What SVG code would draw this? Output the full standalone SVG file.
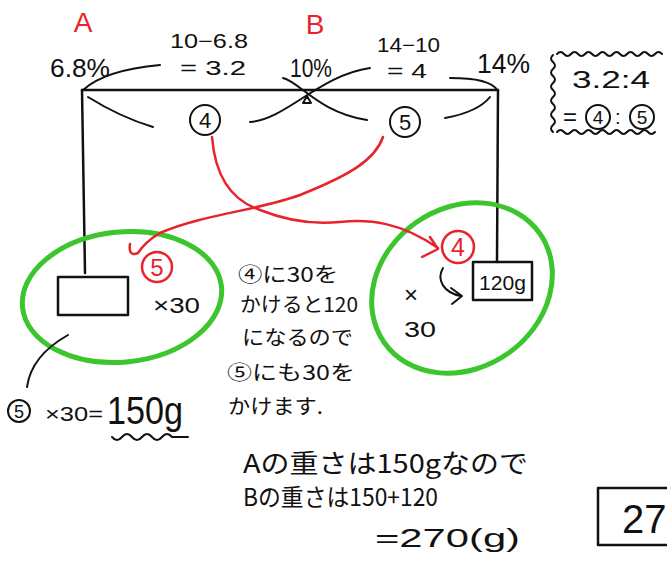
<svg xmlns="http://www.w3.org/2000/svg" width="667" height="563" viewBox="0 0 667 563">
<style>
.ln{fill:none;stroke:#111;stroke-width:2.5;stroke-linecap:round;stroke-linejoin:round}
.thin{fill:none;stroke:#111;stroke-width:2;stroke-linecap:round;stroke-linejoin:round}
.red{fill:none;stroke:#e8232b;stroke-width:2.5;stroke-linecap:round;stroke-linejoin:round}
.grn{fill:none;stroke:#3cc52c;stroke-width:5}
.t{font-family:"Liberation Sans","Noto Sans CJK JP",sans-serif;fill:#111}
.j{font-family:"Noto Sans CJK JP",sans-serif;fill:#111}
.rt{font-family:"Liberation Sans",sans-serif;fill:#e8232b}
.cn{font-family:"Liberation Sans",sans-serif;fill:#111;text-anchor:middle}
</style>
<rect width="667" height="563" fill="#fff"/>

<g id="lever">
  <path class="ln" d="M82,90 L498,90"/>
  <path class="ln" d="M82,90 L85,273"/>
  <path class="ln" d="M498,90 L497,262"/>
  <path class="thin" d="M83,90 Q105,70 160,65"/>
  <path class="thin" d="M88,97 Q120,117 153,127"/>
  <path class="thin" d="M250,122 C285,120 320,75 370,68"/>
  <path class="thin" d="M283,78 C300,82 318,112 367,120"/>
  <path class="thin" d="M450,78 Q490,78 497,90"/>
  <path class="thin" d="M445,118 Q478,112 490,97"/>
  <path class="thin" d="M303,103 L307,96 L311,103 Z"/>
</g>

<g id="labels-top">
  <text class="rt" x="83" y="32" font-size="28" text-anchor="middle">A</text>
  <text class="rt" x="315" y="34" font-size="28" text-anchor="middle">B</text>
  <text class="t" x="50" y="77" font-size="26" textLength="60" lengthAdjust="spacingAndGlyphs">6.8%</text>
  <text class="t" x="170" y="48" font-size="20" textLength="78" lengthAdjust="spacingAndGlyphs">10−6.8</text>
  <text class="t" x="180" y="75" font-size="20" textLength="66" lengthAdjust="spacingAndGlyphs">= 3.2</text>
  <text class="t" x="290" y="77" font-size="26" textLength="42" lengthAdjust="spacingAndGlyphs">10%</text>
  <text class="t" x="377" y="52" font-size="20" textLength="63" lengthAdjust="spacingAndGlyphs">14−10</text>
  <text class="t" x="387" y="78" font-size="20" textLength="40" lengthAdjust="spacingAndGlyphs">= 4</text>
  <text class="t" x="477" y="73" font-size="28" textLength="53" lengthAdjust="spacingAndGlyphs">14%</text>
</g>

<g id="ratio-4">
  <circle class="thin" cx="205" cy="120" r="15"/>
  <text class="cn" x="205" y="128" font-size="22">4</text>
</g>
<g id="ratio-5">
  <circle class="thin" cx="405" cy="122" r="15"/>
  <text class="cn" x="405" y="130" font-size="22">5</text>
</g>

<g id="ratio-box">
  <path class="thin" d="M557,54 q3.5,-4 7,0 t7,0 t7,0 t7,0 t7,0 t7,0 t7,0 t7,0 t7,0 t7,0 t7,0 t7,0 t7,0 t7,0 t7,0"/>
  <path class="thin" d="M553,55 q-4,3.5 0,7 t0,7 t0,7 t0,7 t0,7 t0,7 t0,7 t0,7 t0,7 t0,7 t0,7"/>
  <path class="thin" d="M557,132 q3.5,-4 7,0 t7,0 t7,0 t7,0 t7,0 t7,0 t7,0 t7,0 t7,0 t7,0 t7,0 t7,0 t7,0 t7,0"/>
  <text class="t" x="572" y="88" font-size="24" textLength="78" lengthAdjust="spacingAndGlyphs">3.2:4</text>
  <text class="t" x="563" y="125" font-size="24">=</text>
  <circle class="thin" cx="598" cy="117" r="12"/>
  <text class="cn" x="598" y="124" font-size="19">4</text>
  <text class="t" x="615" y="124" font-size="20">:</text>
  <circle class="thin" cx="642" cy="117" r="12"/>
  <text class="cn" x="642" y="124" font-size="19">5</text>
</g>

<g id="weight-A">
  <ellipse class="grn" cx="122" cy="297" rx="100" ry="65" transform="rotate(-6 122 297)"/>
  <rect class="ln" x="58" y="277" width="70" height="38"/>
  <text class="t" x="153" y="313" font-size="22" textLength="47" lengthAdjust="spacingAndGlyphs">×30</text>
  <circle cx="157" cy="267" r="15" fill="none" stroke="#e8232b" stroke-width="2.5"/>
  <text class="rt" x="157" y="276" font-size="24" text-anchor="middle">5</text>
</g>

<g id="weight-B">
  <ellipse class="grn" cx="462" cy="288" rx="95" ry="80" transform="rotate(-35 462 288)"/>
  <rect class="ln" x="473" y="262" width="59" height="38"/>
  <text class="t" x="479" y="290" font-size="20" textLength="47" lengthAdjust="spacingAndGlyphs">120g</text>
  <text class="t" x="404" y="303" font-size="24">×</text>
  <text class="t" x="404" y="337" font-size="22" textLength="32" lengthAdjust="spacingAndGlyphs">30</text>
  <path class="thin" d="M443,268 C436,280 444,293 461,296 M451,288 L462,296 L452,304"/>
  <circle cx="458" cy="247" r="16" fill="none" stroke="#e8232b" stroke-width="2.5"/>
  <text class="rt" x="458" y="256" font-size="25" text-anchor="middle">4</text>
</g>

<g id="connectors">
  <path class="red" d="M212,137 C215,175 230,200 260,210 C285,220 310,225 340,222 C370,219 400,222 438,248 M430,237 L438,249 L422,257"/>
  <path class="red" d="M383,137 C375,160 350,175 300,195 C260,210 200,215 160,233 C150,239 143,245 138,253 Q128,257 130,244"/>
  <path class="thin" d="M68,335 C45,348 30,365 27,387"/>
</g>

<g id="explanation">
  <text class="j" x="238" y="282" font-size="20" textLength="100" lengthAdjust="spacingAndGlyphs">④に30を</text>
  <text class="j" x="240" y="312" font-size="20" textLength="118" lengthAdjust="spacingAndGlyphs">かけると120</text>
  <text class="j" x="242" y="345" font-size="20" textLength="111" lengthAdjust="spacingAndGlyphs">になるので</text>
  <text class="j" x="227" y="380" font-size="20" textLength="128" lengthAdjust="spacingAndGlyphs">⑤にも30を</text>
  <text class="j" x="228" y="414" font-size="20" textLength="95" lengthAdjust="spacingAndGlyphs">かけます.</text>
</g>

<g id="result-A">
  <circle class="thin" cx="19" cy="411" r="11"/>
  <text class="cn" x="19" y="418" font-size="18">5</text>
  <text class="t" x="45" y="421" font-size="20" textLength="58" lengthAdjust="spacingAndGlyphs">×30=</text>
  <text class="t" x="107" y="424" font-size="38" textLength="76" lengthAdjust="spacingAndGlyphs">150g</text>
  <path class="thin" d="M112,437 q5,6 10,0 t10,0 t10,0 t10,0 t10,0 t10,0 L188,437"/>
</g>

<g id="result-B">
  <text class="j" x="243" y="473" font-size="26" textLength="285" lengthAdjust="spacingAndGlyphs">Aの重さは150gなので</text>
  <text class="j" x="243" y="506" font-size="24" textLength="195" lengthAdjust="spacingAndGlyphs">Bの重さは150+120</text>
  <text class="t" x="375" y="547" font-size="26" textLength="145" lengthAdjust="spacingAndGlyphs">=270(g)</text>
</g>

<g id="answer">
  <rect class="ln" x="598" y="488" width="90" height="57"/>
  <text class="t" x="622" y="533" font-size="40">27</text>
</g>
</svg>
